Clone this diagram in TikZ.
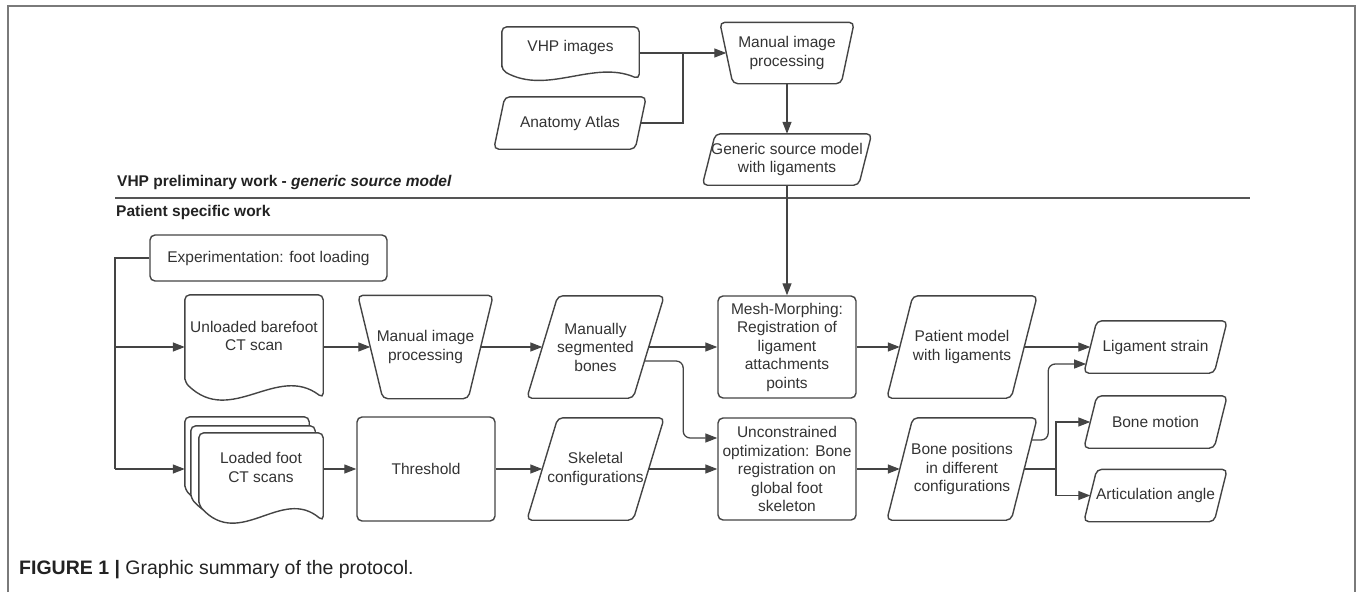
\documentclass[tikz,border=0pt]{standalone}
\usepackage{fontspec}
\setmainfont{Liberation Sans}
\usepackage{tikz}
\usetikzlibrary{arrows.meta,calc,backgrounds}

\definecolor{boxline}{HTML}{444444}
\definecolor{boxtext}{HTML}{333333}
\definecolor{framegray}{HTML}{7A7A7A}
\definecolor{rulegray}{HTML}{555555}
\definecolor{headtext}{HTML}{222222}

% outlines drawn round a named node
\newcommand{\dataoutline}[2]{% node, slant
  \draw[outline] ([xshift=#2pt]#1.north west) -- (#1.north east) -- ([xshift=-#2pt]#1.south east) -- (#1.south west) -- cycle;}
\newcommand{\manoutline}[2]{% node, inset
  \draw[outline] (#1.north west) -- (#1.north east) -- ([xshift=-#2pt]#1.south east) -- ([xshift=#2pt]#1.south west) -- cycle;}
\newcommand{\docoutline}[3]{% node, extra depth, wave
  \draw[outline,fill=white] ([yshift={(#3-#2)*1pt}]#1.south west) -- (#1.north west) -- (#1.north east) -- ([yshift=-#2pt]#1.south east)
    .. controls ($([yshift={(2.2*#3-#2)*1pt}]#1.south west)!.667!([yshift={(2.2*#3-#2)*1pt}]#1.south east)$)
    and ($([yshift={(-1.8*#3-#2)*1pt}]#1.south west)!.333!([yshift={(-1.8*#3-#2)*1pt}]#1.south east)$) .. cycle;}

\begin{document}
\begin{tikzpicture}[x=1pt,y=-1pt,
    box/.style={inner sep=0pt, align=center, text=boxtext, font=\fontsize{15.5pt}{18.5pt}\selectfont},
    process/.style={box, draw=boxline, line width=1.4pt, rounded corners=5pt},
    outline/.style={draw=boxline, line width=1.4pt, rounded corners=5pt},
    line/.style={draw=boxline, line width=1.3pt},
    arr/.style={line, -{Triangle[length=12pt,width=9pt]}},
    head/.style={anchor=west, inner sep=0pt, text=headtext, font=\fontsize{15.5pt}{18.5pt}\selectfont\bfseries}]
  \useasboundingbox (0,0) rectangle (1357,592);
  % Frame
  \draw[framegray, line width=2pt] (8,592) -- (8,6) -- (1355,6) -- (1355,592);
  %
  % VHP preliminary work
  \node[box, minimum width=137pt, minimum height=40pt] (vhpimg) at (570.5,47) {VHP images};
  \node[box, minimum width=152pt, minimum height=52pt] (atlas) at (570,123) {Anatomy Atlas};
  \node[box, minimum width=134pt, minimum height=61pt] (topmip) at (787,53) {Manual image\\processing};
  \node[box, minimum width=169pt, minimum height=51pt] (generic) at (787,159.5) {Generic source model\\with ligaments};
  \begin{pgfonlayer}{background}
    \docoutline{vhpimg}{12}{9}
  \end{pgfonlayer}
  \dataoutline{atlas}{11}
  \manoutline{topmip}{13}
  \dataoutline{generic}{13}
  %
  % Section titles
  \node[head] (vhpwork) at (117,182) {VHP preliminary work - \textit{generic source model}};
  \draw[rulegray, line width=2.8pt] (115,198) -- (1250,198);
  \node[head] (patwork) at (116,212) {Patient specific work};
  %
  % Patient specific work: first row
  \node[process, minimum width=237pt, minimum height=46pt] (exper) at (268.5,258) {Experimentation: foot loading};
  \node[box, minimum width=138pt, minimum height=82pt] (unl) at (254,336) {Unloaded barefoot\\CT scan};
  \node[box, minimum width=135pt, minimum height=103pt] (botmip) at (425.5,347) {Manual image\\processing};
  \node[box, minimum width=137pt, minimum height=102pt] (msb) at (595.5,347) {Manually\\segmented\\bones};
  \node[process, minimum width=138pt, minimum height=102pt] (mesh) at (787,347) {Mesh-Morphing:\\Registration of\\ligament\\attachments\\points};
  \node[box, minimum width=150pt, minimum height=102pt] (pmodel) at (962,347) {Patient model\\with ligaments};
  \begin{pgfonlayer}{background}
    \docoutline{unl}{21}{16}
  \end{pgfonlayer}
  \manoutline{botmip}{25}
  \dataoutline{msb}{31}
  \dataoutline{pmodel}{26}
  %
  % second row
  \node[box, minimum width=124pt, minimum height=69pt] (ldd) at (261,467.5) {Loaded foot\\CT scans};
  \node[box, minimum width=124pt, minimum height=69pt] (ldd2) at ($(ldd)+(-8,-7)$) {};
  \node[box, minimum width=124pt, minimum height=69pt] (ldd3) at ($(ldd)+(-14,-16)$) {};
  \begin{pgfonlayer}{background}
    \docoutline{ldd3}{19}{16}
    \docoutline{ldd2}{19}{16}
    \docoutline{ldd}{19}{16}
  \end{pgfonlayer}
  \node[process, minimum width=138pt, minimum height=104pt] (thresh) at (426,469) {Threshold};
  \node[box, minimum width=137pt, minimum height=102pt] (skel) at (595.5,469) {Skeletal\\configurations};
  \node[process, minimum width=138pt, minimum height=102pt] (uncon) at (787,469) {Unconstrained\\optimization: Bone\\registration on\\global foot\\skeleton};
  \node[box, minimum width=150pt, minimum height=102pt] (bpos) at (962,469) {Bone positions\\in different\\configurations};
  \dataoutline{skel}{31}
  \dataoutline{bpos}{26}
  %
  % Outputs
  \node[box, minimum width=143pt, minimum height=52pt] (ligs) at (1155.5,347) {Ligament strain};
  \node[box, minimum width=143pt, minimum height=52pt] (bmot) at (1155.5,422) {Bone motion};
  \node[box, minimum width=143pt, minimum height=52pt] (artic) at (1155.5,495.5) {Articulation angle};
  \dataoutline{ligs}{13}
  \dataoutline{bmot}{13}
  \dataoutline{artic}{13}
  %
  % Connectors, preliminary work
  \coordinate (jtop) at (683,53);
  \draw[arr] ([yshift=-6pt]vhpimg.east) -- ([xshift=6.5pt]topmip.west);
  \draw[line] ([xshift=-5.5pt]atlas.east) -| (jtop);
  \draw[arr] (topmip.south) -- (generic.north);
  \draw[arr] (generic.south) -- (mesh.north);
  % Connectors, patient work
  \coordinate (trunk) at (115,469);
  \coordinate (unlin) at ([yshift=-11pt]unl.west);
  \coordinate (lddin) at ([xshift=-14pt,yshift=-1.5pt]ldd.west);
  \draw[line] (exper.west) -| (trunk);
  \draw[arr] (trunk |- unlin) -- (unlin);
  \draw[arr] (trunk) -- (lddin);
  \draw[arr] ([yshift=-11pt]unl.east) -- ([xshift=12.5pt]botmip.west);
  \draw[arr] ([xshift=-12.5pt]botmip.east) -- ([xshift=15.5pt]msb.west);
  \draw[arr] ([xshift=-15.5pt]msb.east) -- (mesh.west);
  \draw[arr, rounded corners=7pt] ([xshift=-20pt,yshift=-14pt]msb.east) -- ++(39,0) |- ([yshift=31pt]uncon.west);
  \draw[arr] ([yshift=-1.5pt]ldd.east) -- (thresh.west);
  \draw[arr] (thresh.east) -- ([xshift=15.5pt]skel.west);
  \draw[arr] ([xshift=-15.5pt]skel.east) -- (uncon.west);
  \draw[arr] (mesh.east) -- ([xshift=13pt]pmodel.west);
  \draw[arr] (uncon.east) -- ([xshift=13pt]bpos.west);
  % Connectors to outputs
  \coordinate (jright) at (1056,469);
  \draw[arr] ([xshift=-13pt]pmodel.east) -- ([xshift=6.5pt]ligs.west);
  \draw[arr, rounded corners=7pt] ([xshift=-5.6pt,yshift=29pt]bpos.east) -- ++(16.6,0) |- ([xshift=2.3pt,yshift=-17pt]ligs.west);
  \draw[line] ([xshift=-13pt]bpos.east) -- (jright);
  \draw[arr] (jright) |- ([xshift=6.5pt]bmot.west);
  \draw[arr] (jright) |- ([xshift=6.5pt]artic.west);
  %
  % Caption
  \node[anchor=west, inner sep=0pt, text=headtext, font=\fontsize{19.5pt}{22pt}\selectfont] (caption) at (19,570) {\textbf{FIGURE 1 |} Graphic summary of the protocol.};
\end{tikzpicture}
\end{document}
